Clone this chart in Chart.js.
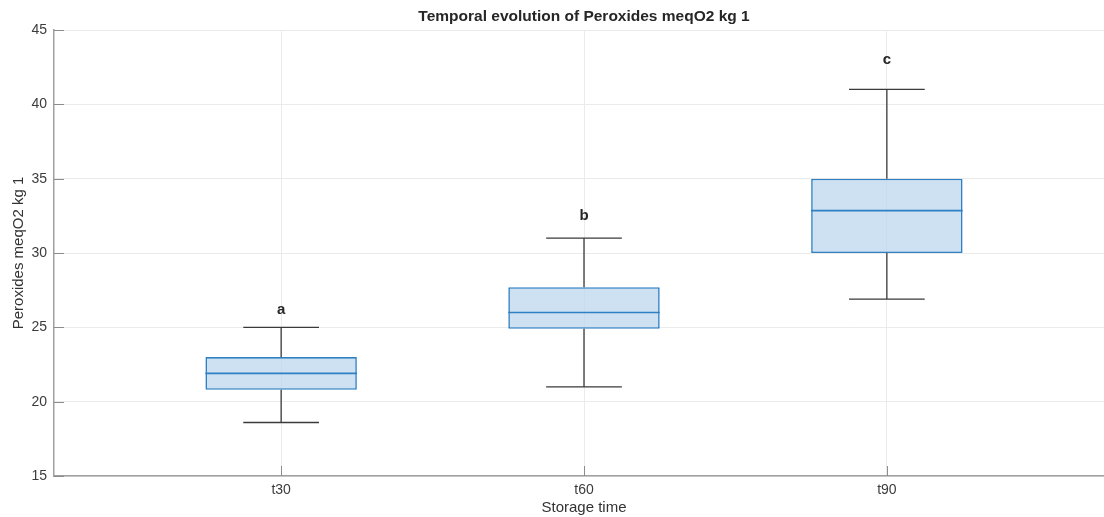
<!DOCTYPE html>
<html>
<head>
<meta charset="utf-8">
<script src="https://cdn.jsdelivr.net/npm/chart.js@4"></script>
<style>
  html, body { margin: 0; padding: 0; background: #fff; overflow: hidden; }
  #wrap { width: 1120px; height: 517px; }
</style>
</head>
<body>
<div id="wrap"><canvas id="boxChart" width="1120" height="517"></canvas></div>
<script>
// Peroxydes : boîtes à moustaches par temps de stockage

const categories = ["t30", "t60", "t90"];
const whiskerLow = [18.6, 21.0, 26.9];
const q1 = [20.8, 24.9, 30.0];
const median = [21.9, 26.0, 32.85];
const q3 = [23.0, 27.7, 35.0];
const whiskerHigh = [25.0, 31.0, 41.0];
const groupLetters = ["a", "b", "c"];
const letterPos = [26.2, 32.5, 43.0];
const yTicks = [15, 20, 25, 30, 35, 40, 45];

const boxBorder = "#2f80c3";
const boxFill = "rgba(190, 215, 238, 0.75)";
const whiskerColor = "#3a3a3a";
const fontFam = "'Liberation Sans', Arial, sans-serif";

// Moustaches, médianes, lettres et petits traits de graduation intérieurs
const boxExtras = {
  id: "boxExtras",
  afterDatasetsDraw(chart) {
    const ctx = chart.ctx;
    const x = chart.scales.x;
    const y = chart.scales.y;
    const unit = x.getPixelForValue(2) - x.getPixelForValue(1);
    const capHalf = unit * 0.125;
    const boxHalf = unit * 0.25;

    ctx.save();
    categories.forEach((c, i) => {
      const cx = x.getPixelForValue(i + 1);
      ctx.strokeStyle = whiskerColor;
      ctx.lineWidth = 1.3;
      ctx.beginPath();
      ctx.moveTo(cx, y.getPixelForValue(q3[i]));
      ctx.lineTo(cx, y.getPixelForValue(whiskerHigh[i]));
      ctx.moveTo(cx, y.getPixelForValue(q1[i]));
      ctx.lineTo(cx, y.getPixelForValue(whiskerLow[i]));
      ctx.moveTo(cx - capHalf, y.getPixelForValue(whiskerHigh[i]));
      ctx.lineTo(cx + capHalf, y.getPixelForValue(whiskerHigh[i]));
      ctx.moveTo(cx - capHalf, y.getPixelForValue(whiskerLow[i]));
      ctx.lineTo(cx + capHalf, y.getPixelForValue(whiskerLow[i]));
      ctx.stroke();

      ctx.strokeStyle = boxBorder;
      ctx.lineWidth = 1.6;
      ctx.beginPath();
      ctx.moveTo(cx - boxHalf, y.getPixelForValue(median[i]));
      ctx.lineTo(cx + boxHalf, y.getPixelForValue(median[i]));
      ctx.stroke();

      ctx.fillStyle = "#262626";
      ctx.font = "bold 15px " + fontFam;
      ctx.textAlign = "center";
      ctx.textBaseline = "middle";
      ctx.fillText(groupLetters[i], cx, y.getPixelForValue(letterPos[i]));
    });

    // graduations vers l'intérieur
    const area = chart.chartArea;
    ctx.strokeStyle = "#8c8c8c";
    ctx.lineWidth = 1;
    ctx.beginPath();
    y.ticks.forEach((t) => {
      const py = Math.round(y.getPixelForValue(t.value)) + 0.5;
      ctx.moveTo(area.left, py);
      ctx.lineTo(area.left + 10, py);
    });
    x.ticks.forEach((t) => {
      const px = Math.round(x.getPixelForValue(t.value)) + 0.5;
      ctx.moveTo(px, area.bottom);
      ctx.lineTo(px, area.bottom - 10);
    });
    ctx.stroke();
    ctx.restore();
  },
};

const ctx = document.getElementById("boxChart");

new Chart(ctx, {
  type: "bar",
  data: {
    datasets: [
      {
        data: categories.map((c, i) => ({ x: i + 1, y: [q1[i], q3[i]] })),
        backgroundColor: boxFill,
        borderColor: boxBorder,
        borderWidth: 1.6,
        borderSkipped: false,
        categoryPercentage: 1,
        barPercentage: 0.5,
      },
    ],
  },
  options: {
    responsive: false,
    animation: false,
    layout: { padding: { top: 30, right: 6, left: 0, bottom: 0 } },
    plugins: {
      legend: { display: false },
      tooltip: { enabled: false },
      title: { display: false },
    },
    scales: {
      x: {
        type: "linear",
        min: 0.25,
        max: 3.75,
        offset: false,
        afterBuildTicks: (scale) => {
          scale.ticks = categories.map((c, i) => ({ value: i + 1 }));
        },
        afterFit: (scale) => { scale.height = 41; },
        ticks: {
          callback: (v) => categories[v - 1] || "",
          color: "#3c3c3c",
          font: { family: fontFam, size: 14 },
          padding: 6,
          maxRotation: 0,
        },
        grid: { color: "#ebebeb", drawTicks: false, offset: false },
        border: { color: "#a0a0a0", width: 1.5 },
        title: {
          display: true,
          text: "Storage time",
          color: "#333",
          font: { family: fontFam, size: 15 },
          padding: { top: 0, bottom: 0 },
        },
      },
      y: {
        min: 15,
        max: 45,
        afterBuildTicks: (scale) => {
          scale.ticks = yTicks.map((v) => ({ value: v }));
        },
        afterFit: (scale) => { scale.width = 54; },
        ticks: {
          color: "#3c3c3c",
          font: { family: fontFam, size: 14 },
          padding: 7,
        },
        grid: { color: "#ebebeb", drawTicks: false },
        border: { color: "#a0a0a0", width: 1.5 },
        title: {
          display: true,
          text: "Peroxides meqO2 kg 1",
          color: "#333",
          font: { family: fontFam, size: 15 },
          padding: { top: 10, bottom: 0 },
        },
      },
    },
  },
  plugins: [
    boxExtras,
    {
      id: "topTitle",
      afterDraw(chart) {
        const c = chart.ctx;
        const a = chart.chartArea;
        c.save();
        c.fillStyle = "#262626";
        c.font = "bold 15.5px " + fontFam;
        c.textAlign = "center";
        c.textBaseline = "middle";
        c.fillText("Temporal evolution of Peroxides meqO2 kg 1", (a.left + a.right) / 2, 17);
        c.restore();
      },
    },
  ],
});
</script>
</body>
</html>
